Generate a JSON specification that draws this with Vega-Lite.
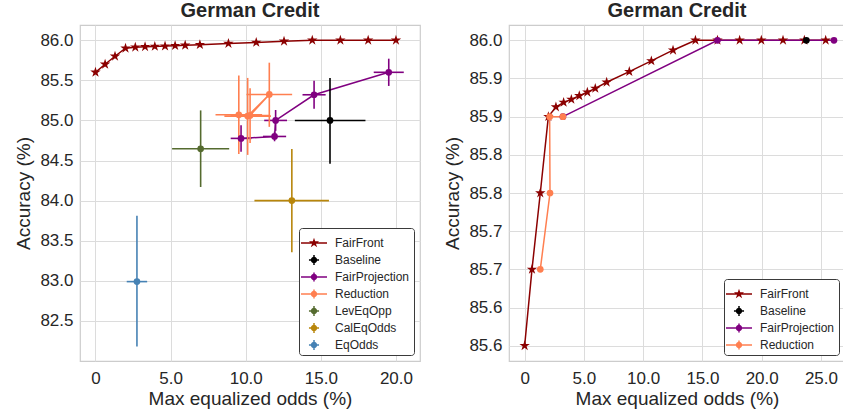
{
  "$schema": "https://vega.github.io/schema/vega-lite/v6.json",
  "padding": {"left": 14, "top": 0, "right": 0, "bottom": 0},
  "background": "white",
  "config": {
    "font": "Liberation Sans",
    "view": {"stroke": "#cccccc", "strokeWidth": 1.2},
    "axis": {"grid": true, "gridColor": "#dcdcdc", "gridWidth": 1, "domain": false, "ticks": false, "labelFontSize": 17, "labelColor": "#262626", "titleFontSize": 19, "titleFontWeight": "normal", "titleColor": "#262626", "labelPadding": 7, "titlePadding": 6},
    "axisX": {"labelPadding": 9, "titlePadding": 3},
    "title": {"fontSize": 20, "fontWeight": "bold", "color": "#262626", "offset": 4},
    "legend": {"title": null, "orient": "bottom-right", "offset": 6, "labelFontSize": 12, "labelColor": "#262626", "strokeColor": "#3a3a3a", "fillColor": "white", "padding": 4, "cornerRadius": 3, "symbolSize": 458, "symbolStrokeWidth": 0, "symbolOpacity": 1, "rowPadding": 0, "labelOffset": 10},
    "concat": {"spacing": 22}
  },
  "datasets": {
    "left": [
      {"series": "FairFront", "x": 0, "y": 85.6, "ord": 1},
      {"series": "FairFront", "x": 0.64, "y": 85.7, "ord": 2},
      {"series": "FairFront", "x": 1.3, "y": 85.8, "ord": 3},
      {"series": "FairFront", "x": 2.0, "y": 85.9, "ord": 4},
      {"series": "FairFront", "x": 2.65, "y": 85.913, "ord": 5},
      {"series": "FairFront", "x": 3.3, "y": 85.919, "ord": 6},
      {"series": "FairFront", "x": 3.95, "y": 85.923, "ord": 7},
      {"series": "FairFront", "x": 4.63, "y": 85.927, "ord": 8},
      {"series": "FairFront", "x": 5.3, "y": 85.932, "ord": 9},
      {"series": "FairFront", "x": 5.97, "y": 85.937, "ord": 10},
      {"series": "FairFront", "x": 6.95, "y": 85.945, "ord": 11},
      {"series": "FairFront", "x": 8.85, "y": 85.959, "ord": 12},
      {"series": "FairFront", "x": 10.7, "y": 85.973, "ord": 13},
      {"series": "FairFront", "x": 12.55, "y": 85.987, "ord": 14},
      {"series": "FairFront", "x": 14.43, "y": 86.0, "ord": 15},
      {"series": "FairFront", "x": 16.3, "y": 86.0, "ord": 16},
      {"series": "FairFront", "x": 18.15, "y": 86.0, "ord": 17},
      {"series": "FairFront", "x": 20.0, "y": 86.0, "ord": 18},
      {"series": "Baseline", "x": 15.61, "y": 85.0, "ord": 1, "xlo": 13.27, "xhi": 17.97, "ylo": 84.46, "yhi": 85.53},
      {"series": "FairProjection", "x": 9.69, "y": 84.776, "ord": 1, "xlo": 9.0, "xhi": 10.38, "ylo": 84.61, "yhi": 84.94},
      {"series": "FairProjection", "x": 11.92, "y": 84.8, "ord": 2, "xlo": 11.15, "xhi": 12.69, "ylo": 84.74, "yhi": 84.86},
      {"series": "FairProjection", "x": 11.99, "y": 85.0, "ord": 3, "xlo": 11.23, "xhi": 12.75, "ylo": 84.87, "yhi": 85.13},
      {"series": "FairProjection", "x": 14.55, "y": 85.32, "ord": 4, "xlo": 13.78, "xhi": 15.32, "ylo": 85.145, "yhi": 85.495},
      {"series": "FairProjection", "x": 19.52, "y": 85.6, "ord": 5, "xlo": 18.52, "xhi": 20.52, "ylo": 85.43, "yhi": 85.77},
      {"series": "Reduction", "x": 9.54, "y": 85.07, "ord": 1, "xlo": 7.99, "xhi": 11.09, "ylo": 84.58, "yhi": 85.56},
      {"series": "Reduction", "x": 10.13, "y": 85.054, "ord": 2, "xlo": 8.58, "xhi": 11.68, "ylo": 84.57, "yhi": 85.53},
      {"series": "Reduction", "x": 11.57, "y": 85.324, "ord": 3, "xlo": 10.05, "xhi": 13.09, "ylo": 84.92, "yhi": 85.72},
      {"series": "Reduction", "x": 10.29, "y": 85.062, "ord": 4, "xlo": 9.0, "xhi": 11.58, "ylo": 84.72, "yhi": 85.4},
      {"series": "LevEqOpp", "x": 7.0, "y": 84.646, "ord": 1, "xlo": 5.1, "xhi": 8.9, "ylo": 84.17, "yhi": 85.125},
      {"series": "CalEqOdds", "x": 13.07, "y": 84.0, "ord": 1, "xlo": 10.58, "xhi": 15.54, "ylo": 83.355, "yhi": 84.645},
      {"series": "EqOdds", "x": 2.76, "y": 82.99, "ord": 1, "xlo": 2.08, "xhi": 3.44, "ylo": 82.18, "yhi": 83.81}
    ],
    "right": [
      {"series": "FairFront", "x": 0, "y": 85.6, "ord": 1},
      {"series": "FairFront", "x": 0.62, "y": 85.7, "ord": 2},
      {"series": "FairFront", "x": 1.32, "y": 85.8, "ord": 3},
      {"series": "FairFront", "x": 2.0, "y": 85.9, "ord": 4},
      {"series": "FairFront", "x": 2.64, "y": 85.9126, "ord": 5},
      {"series": "FairFront", "x": 3.29, "y": 85.9187, "ord": 6},
      {"series": "FairFront", "x": 3.94, "y": 85.9226, "ord": 7},
      {"series": "FairFront", "x": 4.61, "y": 85.9273, "ord": 8},
      {"series": "FairFront", "x": 5.29, "y": 85.932, "ord": 9},
      {"series": "FairFront", "x": 5.96, "y": 85.937, "ord": 10},
      {"series": "FairFront", "x": 6.92, "y": 85.945, "ord": 11},
      {"series": "FairFront", "x": 8.83, "y": 85.959, "ord": 12},
      {"series": "FairFront", "x": 10.69, "y": 85.973, "ord": 13},
      {"series": "FairFront", "x": 12.52, "y": 85.987, "ord": 14},
      {"series": "FairFront", "x": 14.41, "y": 86.0, "ord": 15},
      {"series": "FairFront", "x": 16.27, "y": 86.0, "ord": 16},
      {"series": "FairFront", "x": 18.14, "y": 86.0, "ord": 17},
      {"series": "FairFront", "x": 19.97, "y": 86.0, "ord": 18},
      {"series": "FairFront", "x": 21.8, "y": 86.0, "ord": 19},
      {"series": "FairFront", "x": 23.6, "y": 86.0, "ord": 20},
      {"series": "FairFront", "x": 25.4, "y": 86.0, "ord": 21},
      {"series": "Baseline", "x": 23.77, "y": 86.0, "ord": 1},
      {"series": "FairProjection", "x": 3.23, "y": 85.9, "ord": 1},
      {"series": "FairProjection", "x": 16.27, "y": 86.0, "ord": 2},
      {"series": "FairProjection", "x": 26.1, "y": 86.0, "ord": 3},
      {"series": "Reduction", "x": 1.32, "y": 85.7, "ord": 1},
      {"series": "Reduction", "x": 2.14, "y": 85.8, "ord": 2},
      {"series": "Reduction", "x": 2.11, "y": 85.9, "ord": 3},
      {"series": "Reduction", "x": 3.23, "y": 85.9, "ord": 4}
    ]
  },
  "hconcat": [
    {
      "title": "German Credit",
      "width": 340,
      "height": 336,
      "data": {"name": "left"},
      "layer": [
        {
          "mark": {"type": "point", "filled": true, "opacity": 0, "size": 10},
          "encoding": {
            "x": {"field": "x", "type": "quantitative", "title": "Max equalized odds (%)", "scale": {"domain": [-1.03, 21.6], "nice": false, "zero": false}, "axis": {"values": [0, 5, 10, 15, 20], "labelExpr": "datum.value == 0 ? '0' : format(datum.value, '.1f')"}},
            "y": {"field": "y", "type": "quantitative", "title": "Accuracy (%)", "scale": {"domain": [82.0, 86.19], "nice": false, "zero": false}, "axis": {"values": [82.5, 83.0, 83.5, 84.0, 84.5, 85.0, 85.5, 86.0], "format": ".1f"}},
            "color": {"field": "series", "type": "nominal", "legend": {"title": null, "orient": "bottom-right", "symbolOpacity": 1, "symbolSize": 458, "labelOffset": 10, "rowPadding": 0, "padding": 4},
              "scale": {"domain": ["FairFront", "Baseline", "FairProjection", "Reduction", "LevEqOpp", "CalEqOdds", "EqOdds"], "range": ["#8b0000", "#000000", "#800080", "#ff7f50", "#556b2f", "#b8860b", "#4682b4"]}},
            "shape": {"field": "series", "type": "nominal", "legend": {"title": null, "orient": "bottom-right", "symbolOpacity": 1, "symbolSize": 458, "labelOffset": 10, "rowPadding": 0, "padding": 4},
              "scale": {"domain": ["FairFront", "Baseline", "FairProjection", "Reduction", "LevEqOpp", "CalEqOdds", "EqOdds"],
                "range": [
                  "M-1.215,-0.07H1.215V0.07H-1.215Z M0,-0.5L0.112,-0.155L0.476,-0.155L0.182,0.059L0.294,0.405L0,0.191L-0.294,0.405L-0.182,0.059L-0.476,-0.155L-0.112,-0.155Z",
                  "M-0.47,-0.07H0.47V0.07H-0.47Z M-0.07,-0.47H0.07V0.47H-0.07Z M0.3,0A0.3,0.3,0,1,1,-0.3,0A0.3,0.3,0,1,1,0.3,0Z",
                  "M-1.215,-0.07H1.215V0.07H-1.215Z M-0.07,-0.42H0.07V0.42H-0.07Z M0.3,0A0.3,0.3,0,1,1,-0.3,0A0.3,0.3,0,1,1,0.3,0Z",
                  "M-1.215,-0.07H1.215V0.07H-1.215Z M-0.07,-0.42H0.07V0.42H-0.07Z M0.3,0A0.3,0.3,0,1,1,-0.3,0A0.3,0.3,0,1,1,0.3,0Z",
                  "M-0.47,-0.07H0.47V0.07H-0.47Z M-0.07,-0.47H0.07V0.47H-0.07Z M0.3,0A0.3,0.3,0,1,1,-0.3,0A0.3,0.3,0,1,1,0.3,0Z",
                  "M-0.47,-0.07H0.47V0.07H-0.47Z M-0.07,-0.47H0.07V0.47H-0.07Z M0.3,0A0.3,0.3,0,1,1,-0.3,0A0.3,0.3,0,1,1,0.3,0Z",
                  "M-0.47,-0.07H0.47V0.07H-0.47Z M-0.07,-0.47H0.07V0.47H-0.07Z M0.3,0A0.3,0.3,0,1,1,-0.3,0A0.3,0.3,0,1,1,0.3,0Z"
                ]}}
          }
        },
        {
          "transform": [{"filter": "indexof(['FairFront','FairProjection','Reduction'], datum.series) >= 0"}],
          "mark": {"type": "line", "strokeWidth": 1.5},
          "encoding": {
            "x": {"field": "x", "type": "quantitative", "title": "Max equalized odds (%)", "scale": {"domain": [-1.03, 21.6], "nice": false, "zero": false}},
            "y": {"field": "y", "type": "quantitative", "title": "Accuracy (%)", "scale": {"domain": [82.0, 86.19], "nice": false, "zero": false}},
            "stroke": {"field": "series", "type": "nominal", "legend": null, "scale": {"domain": ["FairFront", "Baseline", "FairProjection", "Reduction", "LevEqOpp", "CalEqOdds", "EqOdds"], "range": ["#8b0000", "#000000", "#800080", "#ff7f50", "#556b2f", "#b8860b", "#4682b4"]}},
            "order": {"field": "ord", "type": "quantitative"}
          }
        },
        {
          "transform": [{"filter": "isValid(datum.xlo)"}],
          "mark": {"type": "rule", "strokeWidth": 1.6},
          "encoding": {
            "x": {"field": "xlo", "type": "quantitative", "title": "Max equalized odds (%)", "scale": {"domain": [-1.03, 21.6], "nice": false, "zero": false}},
            "x2": {"field": "xhi"},
            "y": {"field": "y", "type": "quantitative", "title": "Accuracy (%)", "scale": {"domain": [82.0, 86.19], "nice": false, "zero": false}},
            "stroke": {"field": "series", "type": "nominal", "legend": null, "scale": {"domain": ["FairFront", "Baseline", "FairProjection", "Reduction", "LevEqOpp", "CalEqOdds", "EqOdds"], "range": ["#8b0000", "#000000", "#800080", "#ff7f50", "#556b2f", "#b8860b", "#4682b4"]}}
          }
        },
        {
          "transform": [{"filter": "isValid(datum.ylo)"}],
          "mark": {"type": "rule", "strokeWidth": 1.6},
          "encoding": {
            "x": {"field": "x", "type": "quantitative", "title": "Max equalized odds (%)", "scale": {"domain": [-1.03, 21.6], "nice": false, "zero": false}},
            "y": {"field": "ylo", "type": "quantitative", "title": "Accuracy (%)", "scale": {"domain": [82.0, 86.19], "nice": false, "zero": false}},
            "y2": {"field": "yhi"},
            "stroke": {"field": "series", "type": "nominal", "legend": null, "scale": {"domain": ["FairFront", "Baseline", "FairProjection", "Reduction", "LevEqOpp", "CalEqOdds", "EqOdds"], "range": ["#8b0000", "#000000", "#800080", "#ff7f50", "#556b2f", "#b8860b", "#4682b4"]}}
          }
        },
        {
          "transform": [{"filter": "datum.series == 'FairFront'"}],
          "mark": {"type": "point", "filled": true, "opacity": 1, "size": 120, "strokeWidth": 0, "shape": "M0,-1L0.2245,-0.309L0.951,-0.309L0.363,0.118L0.588,0.809L0,0.382L-0.588,0.809L-0.363,0.118L-0.951,-0.309L-0.2245,-0.309Z"},
          "encoding": {
            "x": {"field": "x", "type": "quantitative", "title": "Max equalized odds (%)", "scale": {"domain": [-1.03, 21.6], "nice": false, "zero": false}},
            "y": {"field": "y", "type": "quantitative", "title": "Accuracy (%)", "scale": {"domain": [82.0, 86.19], "nice": false, "zero": false}},
            "fill": {"field": "series", "type": "nominal", "legend": null, "scale": {"domain": ["FairFront", "Baseline", "FairProjection", "Reduction", "LevEqOpp", "CalEqOdds", "EqOdds"], "range": ["#8b0000", "#000000", "#800080", "#ff7f50", "#556b2f", "#b8860b", "#4682b4"]}}
          }
        },
        {
          "transform": [{"filter": "datum.series != 'FairFront'"}],
          "mark": {"type": "point", "filled": true, "opacity": 1, "size": 45, "strokeWidth": 0, "shape": "circle"},
          "encoding": {
            "x": {"field": "x", "type": "quantitative", "title": "Max equalized odds (%)", "scale": {"domain": [-1.03, 21.6], "nice": false, "zero": false}},
            "y": {"field": "y", "type": "quantitative", "title": "Accuracy (%)", "scale": {"domain": [82.0, 86.19], "nice": false, "zero": false}},
            "fill": {"field": "series", "type": "nominal", "legend": null, "scale": {"domain": ["FairFront", "Baseline", "FairProjection", "Reduction", "LevEqOpp", "CalEqOdds", "EqOdds"], "range": ["#8b0000", "#000000", "#800080", "#ff7f50", "#556b2f", "#b8860b", "#4682b4"]}}
          }
        }
      ]
    },
    {
      "title": "German Credit",
      "width": 336,
      "height": 336,
      "data": {"name": "right"},
      "layer": [
        {
          "mark": {"type": "point", "filled": true, "opacity": 0, "size": 10},
          "encoding": {
            "x": {"field": "x", "type": "quantitative", "title": "Max equalized odds (%)", "scale": {"domain": [-1.32, 27.03], "nice": false, "zero": false}, "axis": {"values": [0, 5, 10, 15, 20, 25], "labelExpr": "datum.value == 0 ? '0' : format(datum.value, '.1f')"}},
            "y": {"field": "y", "type": "quantitative", "title": "Accuracy (%)", "scale": {"domain": [85.58, 86.02], "nice": false, "zero": false}, "axis": {"values": [85.6, 85.65, 85.7, 85.75, 85.8, 85.85, 85.9, 85.95, 86.0], "labelExpr": "format(floor(datum.value * 10 + 0.000001) / 10, '.1f')"}},
            "color": {"field": "series", "type": "nominal", "legend": {"title": null, "orient": "bottom-right", "symbolOpacity": 1, "symbolSize": 458, "labelOffset": 10, "rowPadding": 0, "padding": 4},
              "scale": {"domain": ["FairFront", "Baseline", "FairProjection", "Reduction"], "range": ["#8b0000", "#000000", "#800080", "#ff7f50"]}},
            "shape": {"field": "series", "type": "nominal", "legend": {"title": null, "orient": "bottom-right", "symbolOpacity": 1, "symbolSize": 458, "labelOffset": 10, "rowPadding": 0, "padding": 4},
              "scale": {"domain": ["FairFront", "Baseline", "FairProjection", "Reduction"],
                "range": [
                  "M-1.215,-0.07H1.215V0.07H-1.215Z M0,-0.5L0.112,-0.155L0.476,-0.155L0.182,0.059L0.294,0.405L0,0.191L-0.294,0.405L-0.182,0.059L-0.476,-0.155L-0.112,-0.155Z",
                  "M-0.47,-0.07H0.47V0.07H-0.47Z M-0.07,-0.47H0.07V0.47H-0.07Z M0.3,0A0.3,0.3,0,1,1,-0.3,0A0.3,0.3,0,1,1,0.3,0Z",
                  "M-1.215,-0.07H1.215V0.07H-1.215Z M-0.07,-0.42H0.07V0.42H-0.07Z M0.3,0A0.3,0.3,0,1,1,-0.3,0A0.3,0.3,0,1,1,0.3,0Z",
                  "M-1.215,-0.07H1.215V0.07H-1.215Z M-0.07,-0.42H0.07V0.42H-0.07Z M0.3,0A0.3,0.3,0,1,1,-0.3,0A0.3,0.3,0,1,1,0.3,0Z"
                ]}}
          }
        },
        {
          "transform": [{"filter": "indexof(['FairFront','FairProjection','Reduction'], datum.series) >= 0"}],
          "mark": {"type": "line", "strokeWidth": 1.5},
          "encoding": {
            "x": {"field": "x", "type": "quantitative", "title": "Max equalized odds (%)", "scale": {"domain": [-1.32, 27.03], "nice": false, "zero": false}},
            "y": {"field": "y", "type": "quantitative", "title": "Accuracy (%)", "scale": {"domain": [85.58, 86.02], "nice": false, "zero": false}},
            "stroke": {"field": "series", "type": "nominal", "legend": null, "scale": {"domain": ["FairFront", "Baseline", "FairProjection", "Reduction"], "range": ["#8b0000", "#000000", "#800080", "#ff7f50"]}},
            "order": {"field": "ord", "type": "quantitative"}
          }
        },
        {
          "transform": [{"filter": "datum.series == 'FairFront'"}],
          "mark": {"type": "point", "filled": true, "opacity": 1, "size": 120, "strokeWidth": 0, "shape": "M0,-1L0.2245,-0.309L0.951,-0.309L0.363,0.118L0.588,0.809L0,0.382L-0.588,0.809L-0.363,0.118L-0.951,-0.309L-0.2245,-0.309Z"},
          "encoding": {
            "x": {"field": "x", "type": "quantitative", "title": "Max equalized odds (%)", "scale": {"domain": [-1.32, 27.03], "nice": false, "zero": false}},
            "y": {"field": "y", "type": "quantitative", "title": "Accuracy (%)", "scale": {"domain": [85.58, 86.02], "nice": false, "zero": false}},
            "fill": {"field": "series", "type": "nominal", "legend": null, "scale": {"domain": ["FairFront", "Baseline", "FairProjection", "Reduction"], "range": ["#8b0000", "#000000", "#800080", "#ff7f50"]}}
          }
        },
        {
          "transform": [{"filter": "datum.series != 'FairFront'"}],
          "mark": {"type": "point", "filled": true, "opacity": 1, "size": 45, "strokeWidth": 0, "shape": "circle"},
          "encoding": {
            "x": {"field": "x", "type": "quantitative", "title": "Max equalized odds (%)", "scale": {"domain": [-1.32, 27.03], "nice": false, "zero": false}},
            "y": {"field": "y", "type": "quantitative", "title": "Accuracy (%)", "scale": {"domain": [85.58, 86.02], "nice": false, "zero": false}},
            "fill": {"field": "series", "type": "nominal", "legend": null, "scale": {"domain": ["FairFront", "Baseline", "FairProjection", "Reduction"], "range": ["#8b0000", "#000000", "#800080", "#ff7f50"]}}
          }
        }
      ]
    }
  ],
  "resolve": {
    "scale": {"color": "independent", "shape": "independent", "stroke": "independent", "fill": "independent"},
    "legend": {"color": "independent", "shape": "independent", "stroke": "independent", "fill": "independent"}
  }
}
